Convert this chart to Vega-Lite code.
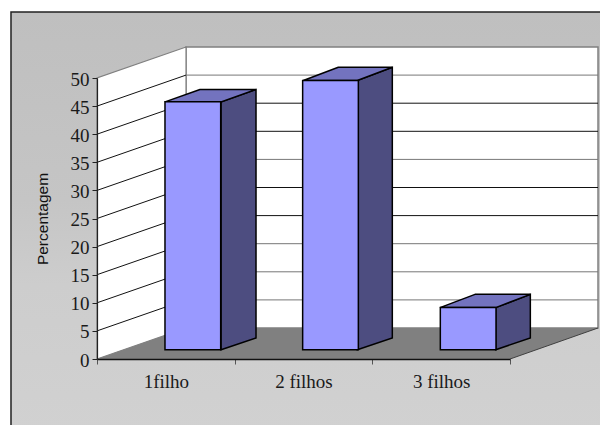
{
  "$schema": "https://vega.github.io/schema/vega-lite/v6.json",
  "width": 501,
  "height": 281,
  "padding": {"left": 97, "top": 78, "right": 2, "bottom": 66},
  "autosize": {"type": "none"},
  "background": "white",
  "datasets": {
    "barras": [
      {"categoria": "1filho", "percentagem": 44.1},
      {"categoria": "2 filhos", "percentagem": 47.9},
      {"categoria": "3 filhos", "percentagem": 7.5}
    ],
    "niveis": [
      {"percentagem": 5}, {"percentagem": 10}, {"percentagem": 15}, {"percentagem": 20}, {"percentagem": 25},
      {"percentagem": 30}, {"percentagem": 35}, {"percentagem": 40}, {"percentagem": 45}, {"percentagem": 50}
    ],
    "parede": [
      {"posicao": 0, "base": 0, "topo": 50},
      {"posicao": 0.6465, "base": 5.516, "topo": 55.516}
    ],
    "chao": [
      {"nivel": 0, "de": 0, "ate": 3},
      {"nivel": 5.516, "de": 0.6465, "ate": 3.639}
    ],
    "lados": [
      {"categoria": "1filho", "posicao": 0.901, "base": 1.65, "topo": 45.75},
      {"categoria": "1filho", "posicao": 1.155, "base": 3.75, "topo": 47.95},
      {"categoria": "2 filhos", "posicao": 1.8907, "base": 1.65, "topo": 49.55},
      {"categoria": "2 filhos", "posicao": 2.145, "base": 3.75, "topo": 51.9},
      {"categoria": "3 filhos", "posicao": 2.896, "base": 1.65, "topo": 9.15},
      {"categoria": "3 filhos", "posicao": 3.1475, "base": 3.75, "topo": 11.5}
    ],
    "tampas": [
      {"categoria": "1filho", "nivel": 45.75, "de": 0.494, "ate": 0.901},
      {"categoria": "1filho", "nivel": 47.95, "de": 0.748, "ate": 1.155},
      {"categoria": "2 filhos", "nivel": 49.55, "de": 1.4985, "ate": 1.8907},
      {"categoria": "2 filhos", "nivel": 51.9, "de": 1.7527, "ate": 2.145},
      {"categoria": "3 filhos", "nivel": 9.15, "de": 2.4915, "ate": 2.896},
      {"categoria": "3 filhos", "nivel": 11.5, "de": 2.7457, "ate": 3.1475}
    ]
  },
  "resolve": {"scale": {"x": "independent"}, "axis": {"x": "independent", "y": "independent"}},
  "layer": [
    {
      "data": {"values": [{"painel": "fundo"}]},
      "mark": {
        "type": "rect",
        "stroke": "#222222",
        "strokeWidth": 1.5,
        "fill": {
          "gradient": "linear", "x1": 0, "y1": 0, "x2": 0, "y2": 1,
          "stops": [
            {"offset": 0, "color": "#bfbfbf"},
            {"offset": 0.45, "color": "#c5c5c5"},
            {"offset": 0.65, "color": "#cdcdcd"},
            {"offset": 1, "color": "#d1d1d1"}
          ]
        }
      },
      "encoding": {
        "x": {"datum": -0.6247, "type": "quantitative", "scale": {"domain": [0, 3.639]}, "axis": null},
        "x2": {"datum": 3.8},
        "y": {"datum": 61.74, "type": "quantitative", "scale": {"domain": [0, 50]}, "axis": null},
        "y2": {"datum": -13}
      }
    },
    {
      "data": {"values": [{"painel": "parede do fundo"}]},
      "mark": {"type": "rect", "fill": "white", "stroke": "#808080", "strokeWidth": 1.5},
      "encoding": {
        "x": {"datum": 0.6465, "type": "quantitative", "scale": {"domain": [0, 3.639]}, "axis": null},
        "x2": {"datum": 3.639},
        "y": {"datum": 5.516, "type": "quantitative", "scale": {"domain": [0, 50]}, "axis": null},
        "y2": {"datum": 55.516}
      }
    },
    {
      "data": {"name": "parede"},
      "mark": {"type": "area", "fill": "white", "stroke": "#808080", "strokeWidth": 1.2},
      "encoding": {
        "x": {"field": "posicao", "type": "quantitative", "scale": {"domain": [0, 3.639]}, "axis": null},
        "y": {"field": "base", "type": "quantitative", "scale": {"domain": [0, 50]}, "axis": null},
        "y2": {"field": "topo"}
      }
    },
    {
      "data": {"name": "chao"},
      "mark": {"type": "area", "orient": "horizontal", "fill": "#808080"},
      "encoding": {
        "y": {"field": "nivel", "type": "quantitative", "scale": {"domain": [0, 50]}, "axis": null},
        "x": {"field": "de", "type": "quantitative", "scale": {"domain": [0, 3.639]}, "axis": null},
        "x2": {"field": "ate"}
      }
    },
    {
      "data": {"values": [{"aresta": "chao"}]},
      "mark": {"type": "rule", "stroke": "#404040", "strokeWidth": 1},
      "encoding": {
        "x": {"datum": 3, "type": "quantitative", "scale": {"domain": [0, 3.639]}, "axis": null},
        "x2": {"datum": 3.639},
        "y": {"datum": 0, "type": "quantitative", "scale": {"domain": [0, 50]}, "axis": null},
        "y2": {"datum": 5.516}
      }
    },
    {
      "data": {"name": "niveis"},
      "transform": [{"filter": "datum.percentagem < 50"}],
      "mark": {"type": "rule", "stroke": "#111111", "strokeWidth": 1, "y2Offset": -31},
      "encoding": {
        "x": {"datum": 0, "type": "quantitative", "scale": {"domain": [0, 3.639]}, "axis": null},
        "x2": {"datum": 0.6465},
        "y": {"field": "percentagem", "type": "quantitative", "scale": {"domain": [0, 50]}, "axis": null},
        "y2": {"field": "percentagem"}
      }
    },
    {
      "data": {"name": "niveis"},
      "transform": [{"filter": "datum.percentagem < 50"}],
      "mark": {"type": "rule", "strokeWidth": 1, "yOffset": -31},
      "encoding": {
        "x": {"datum": 0.6465, "type": "quantitative", "scale": {"domain": [0, 3.639]}, "axis": null},
        "x2": {"datum": 3.639},
        "y": {"field": "percentagem", "type": "quantitative", "scale": {"domain": [0, 50]}, "axis": null},
        "stroke": {
          "condition": {"test": "indexof([5, 10, 15, 30, 45], datum.percentagem) >= 0", "value": "#777777"},
          "value": "#111111"
        }
      }
    },
    {
      "data": {"name": "lados"},
      "mark": {"type": "area", "fill": "#4d4d80", "stroke": "black", "strokeWidth": 1.5},
      "encoding": {
        "detail": {"field": "categoria"},
        "x": {"field": "posicao", "type": "quantitative", "scale": {"domain": [0, 3.639]}, "axis": null},
        "y": {"field": "base", "type": "quantitative", "scale": {"domain": [0, 50]}, "axis": null},
        "y2": {"field": "topo"}
      }
    },
    {
      "data": {"name": "tampas"},
      "mark": {"type": "area", "orient": "horizontal", "fill": "#7373bf", "stroke": "black", "strokeWidth": 1.5},
      "encoding": {
        "detail": {"field": "categoria"},
        "y": {"field": "nivel", "type": "quantitative", "scale": {"domain": [0, 50]}, "axis": null},
        "x": {"field": "de", "type": "quantitative", "scale": {"domain": [0, 3.639]}, "axis": null},
        "x2": {"field": "ate"}
      }
    },
    {
      "data": {"name": "barras"},
      "mark": {
        "type": "bar",
        "size": 55.7,
        "xOffset": 27,
        "yOffset": -9.3,
        "y2Offset": -9.3,
        "fill": "#9999ff",
        "stroke": "black",
        "strokeWidth": 1.5
      },
      "encoding": {
        "x": {
          "field": "categoria",
          "type": "nominal",
          "sort": null,
          "scale": {"domain": ["1filho", "2 filhos", "3 filhos"], "range": [0, 413], "paddingInner": 0, "paddingOuter": 0},
          "axis": {
            "title": null,
            "labelAngle": 0,
            "tickBand": "extent",
            "zindex": 1,
            "domainColor": "#111111",
            "domainWidth": 1.5,
            "tickColor": "#555555",
            "tickSize": 5,
            "labelFont": "Liberation Serif",
            "labelFontSize": 19,
            "labelColor": "#1a1a1a",
            "labelPadding": 8
          }
        },
        "y": {
          "field": "percentagem",
          "type": "quantitative",
          "scale": {"domain": [0, 50]},
          "axis": {
            "title": "Percentagem",
            "values": [0, 5, 10, 15, 20, 25, 30, 35, 40, 45, 50],
            "grid": false,
            "zindex": 1,
            "domainColor": "#222222",
            "domainWidth": 1.2,
            "tickColor": "#222222",
            "tickSize": 5,
            "labelFont": "Liberation Serif",
            "labelFontSize": 19,
            "labelColor": "#1a1a1a",
            "labelPadding": 3,
            "labelOffset": 1,
            "titleFont": "Liberation Sans",
            "titleFontSize": 15.5,
            "titleFontWeight": "normal",
            "titleColor": "#111111",
            "titleX": -47
          }
        }
      }
    }
  ]
}
